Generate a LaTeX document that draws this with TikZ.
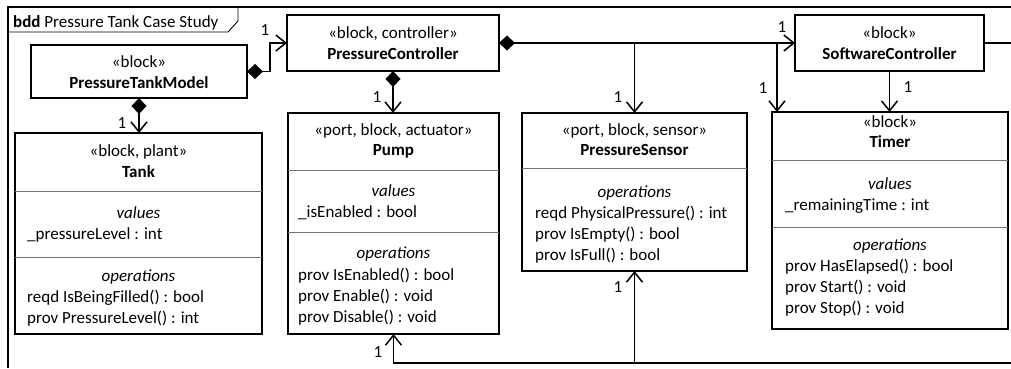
\documentclass[tikz,border=0pt]{standalone}
\usepackage{fontspec}
\setmainfont{Carlito}
\usetikzlibrary{arrows.meta}
\begin{document}
\begin{tikzpicture}[x=1pt,y=-1pt,
  font=\fontsize{17}{21}\selectfont,
  blockbox/.style={draw, line width=1.5pt, inner sep=0pt, outer sep=0pt, anchor=north west},
  divider/.style={draw=black!55, line width=1pt},
  txt/.style={inner sep=0pt, anchor=base},
  item/.style={inner sep=0pt, anchor=base west},
  mult/.style={inner sep=0pt, anchor=center},
  wire/.style={line width=1.5pt},
  assoc/.style={wire, -{Straight Barb[length=10pt,width=16pt]}},
  comp/.style={wire, {Diamond[length=16pt,width=15pt]}-{Straight Barb[length=10pt,width=16pt]}},
  frameline/.style={line width=2pt},
  tabline/.style={line width=0.9pt}]

\useasboundingbox (0,0) rectangle (1011,368);

% diagram frame and its name tab
\draw[frameline] (1011,7) -- (8,7) -- (8,368);
\draw[tabline] (8,32) -- (228,32) -- (238,21) -- (238,7);
\node[item] (title) at (13,27) {\textbf{bdd} Pressure Tank Case Study};

% ---------- blocks ----------
\node[blockbox, minimum width=216pt, minimum height=53pt] (ptm) at (31,45) {};
\node[txt] (ptmst) at (ptm.north |- 0,67) {«block»};
\node[txt] (ptmnm) at (ptm.north |- 0,88) {\textbf{PressureTankModel}};

\node[blockbox, minimum width=212pt, minimum height=56pt] (pc) at (287,15) {};
\node[txt] (pcst) at (pc.north |- 0,38) {«block, controller»};
\node[txt] (pcnm) at (pc.north |- 0,59) {\textbf{PressureController}};

\node[blockbox, minimum width=189pt, minimum height=56pt] (sc) at (795,15) {};
\node[txt] (scst) at (sc.north |- 0,38) {«block»};
\node[txt] (scnm) at (sc.north |- 0,59) {\textbf{SoftwareController}};

% Tank
\node[blockbox, minimum width=247pt, minimum height=201pt] (tank) at (15,133) {};
\draw[divider] (tank.west |- 0,191) -- (tank.east |- 0,191);
\draw[divider] (tank.west |- 0,257) -- (tank.east |- 0,257);
\node[txt] (tankst) at (tank.north |- 0,156) {«block, plant»};
\node[txt] (tanknm) at (tank.north |- 0,177) {\textbf{Tank}};
\node[txt] (tankvh) at (tank.north |- 0,218) {\textit{values}};
\node[item] (tankv1) at (27,239) {\_pressureLevel : int};
\node[txt] (tankoh) at (tank.north |- 0,281) {\textit{operations}};
\foreach \t [count=\i] in {{reqd IsBeingFilled() : bool},{prov PressureLevel() : int}}
  \node[item] (tankop\i) at (27,{281+21*\i}) {\t};

% Pump
\node[blockbox, minimum width=211pt, minimum height=221pt] (pump) at (288,113) {};
\draw[divider] (pump.west |- 0,170) -- (pump.east |- 0,170);
\draw[divider] (pump.west |- 0,232) -- (pump.east |- 0,232);
\node[txt] (pumpst) at (pump.north |- 0,135) {«port, block, actuator»};
\node[txt] (pumpnm) at (pump.north |- 0,155) {\textbf{Pump}};
\node[txt] (pumpvh) at (pump.north |- 0,196) {\textit{values}};
\node[item] (pumpv1) at (298,217) {\_isEnabled : bool};
\node[txt] (pumpoh) at (pump.north |- 0,258) {\textit{operations}};
\foreach \t [count=\i] in {{prov IsEnabled() : bool},{prov Enable() : void},{prov Disable() : void}}
  \node[item] (pumpop\i) at (298,{259+21*\i}) {\t};

% PressureSensor
\node[blockbox, minimum width=225pt, minimum height=158pt] (ps) at (522,113) {};
\draw[divider] (ps.west |- 0,168) -- (ps.east |- 0,168);
\node[txt] (psst) at (ps.north |- 0,135) {«port, block, sensor»};
\node[txt] (psnm) at (ps.north |- 0,155) {\textbf{PressureSensor}};
\node[txt] (psoh) at (ps.north |- 0,197) {\textit{operations}};
\foreach \t [count=\i] in {{reqd PhysicalPressure() : int},{prov IsEmpty() : bool},{prov IsFull() : bool}}
  \node[item] (psop\i) at (535,{197+21*\i}) {\t};

% Timer
\node[blockbox, minimum width=236pt, minimum height=217pt] (timer) at (772,112) {};
\draw[divider] (timer.west |- 0,160) -- (timer.east |- 0,160);
\draw[divider] (timer.west |- 0,227) -- (timer.east |- 0,227);
\node[txt] (timerst) at (timer.north |- 0,127) {«block»};
\node[txt] (timernm) at (timer.north |- 0,147) {\textbf{Timer}};
\node[txt] (timervh) at (timer.north |- 0,189) {\textit{values}};
\node[item] (timerv1) at (785,210) {\_remainingTime : int};
\node[txt] (timeroh) at (timer.north |- 0,250) {\textit{operations}};
\foreach \t [count=\i] in {{prov HasElapsed() : bool},{prov Start() : void},{prov Stop() : void}}
  \node[item] (timerop\i) at (785,{250+21*\i}) {\t};

% ---------- connectors ----------
% composition from PressureTankModel
\draw[comp] (ptm.east) -- ++(23,0) |- (pc.west);
\node[mult] (m1) at (265,30) {1};
\draw[comp] (ptm.south) -- (ptm.south |- tank.north);
\node[mult] (m2) at (122,123) {1};

% composition from PressureController
\draw[comp] (pc.south) -- (pc.south |- pump.north);
\node[mult] (m3) at (377,97) {1};
\draw[comp] (pc.east) -- (sc.west);
\node[mult] (m4) at (782,27) {1};
\coordinate (j1) at (634.5,43);
\draw[assoc] (j1) -- (ps.north);
\node[mult] (m5) at (618,97) {1};
\coordinate (j2) at (777,43);
\draw[assoc] (j2) -- (j2 |- timer.north);
\node[mult] (m6) at (763,88) {1};

% from SoftwareController
\draw[assoc] (sc.south) -- (sc.south |- timer.north);
\node[mult] (m7) at (908,87) {1};
\coordinate (rtop) at (1011,43);
\draw[wire] (sc.east) -- (rtop);

% bottom bus to Pump and PressureSensor
\coordinate (rbot) at (1011,363);
\draw[assoc] (rbot) -| (pump.south);
\node[mult] (m8) at (378,352) {1};
\coordinate (j3) at (634.5,363);
\draw[assoc] (j3) -- (ps.south);
\node[mult] (m9) at (618,287) {1};
\end{tikzpicture}
\end{document}
